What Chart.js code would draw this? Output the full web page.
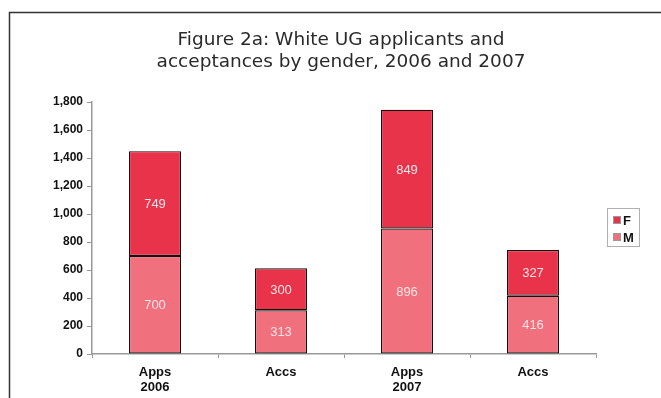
<!DOCTYPE html>
<html>
<head>
<meta charset="utf-8">
<script src="https://cdn.jsdelivr.net/npm/chart.js@4"></script>
<style>
  html, body { margin: 0; padding: 0; background: #fff; }
  #wrap { width: 661px; height: 398px; position: relative; }
</style>
</head>
<body>
<div id="wrap"><canvas id="chart" width="661" height="398"></canvas></div>
<script>
// Data
const categories = [['Apps', '2006'], 'Accs', ['Apps', '2007'], 'Accs'];
const maleValues = [700, 313, 896, 416];
const femaleValues = [749, 300, 849, 327];
const yTicks = [0, 200, 400, 600, 800, 1000, 1200, 1400, 1600, 1800];
const titleLines = ['Figure 2a: White UG applicants and', 'acceptances by gender, 2006 and 2007'];

const colF = '#e8334a';
const colM = '#f0707d';

// Frame, title and legend drawn around the chart
const decor = {
    id: 'decor',
    beforeDraw(chart) {
        const ctx = chart.ctx;
        ctx.save();
        ctx.strokeStyle = '#333';
        ctx.lineWidth = 1.5;
        ctx.beginPath();
        ctx.moveTo(9.5, 400);
        ctx.lineTo(9.5, 12.5);
        ctx.lineTo(665, 12.5);
        ctx.stroke();

        ctx.fillStyle = '#2a2a2a';
        ctx.font = '18.5px "DejaVu Sans", Verdana, sans-serif';
        ctx.textAlign = 'center';
        ctx.textBaseline = 'alphabetic';
        ctx.fillText(titleLines[0], 341, 45);
        ctx.fillText(titleLines[1], 341, 67);
        ctx.restore();
    },
    afterDraw(chart) {
        const ctx = chart.ctx;
        ctx.save();
        ctx.strokeStyle = '#b0b0b0';
        ctx.lineWidth = 1;
        ctx.strokeRect(607.5, 208.5, 32, 38);
        const items = [['F', colF, 220], ['M', colM, 237]];
        ctx.font = 'bold 13px "Liberation Sans", Arial, sans-serif';
        ctx.textBaseline = 'middle';
        ctx.textAlign = 'left';
        items.forEach(([t, c, y]) => {
            ctx.fillStyle = c;
            ctx.fillRect(613, y - 4, 8, 8);
            ctx.strokeStyle = '#999';
            ctx.strokeRect(613.5, y - 3.5, 7, 7);
            ctx.fillStyle = '#111';
            ctx.fillText(t, 623, y + 1);
        });

        // value labels inside segments
        ctx.fillStyle = '#fde4e6';
        ctx.font = '13px "Liberation Sans", Arial, sans-serif';
        ctx.textAlign = 'center';
        chart.data.datasets.forEach((ds, i) => {
            chart.getDatasetMeta(i).data.forEach((bar, j) => {
                const p = bar.getProps(['x', 'y', 'base'], true);
                ctx.fillText(String(ds.data[j]), p.x, (p.y + p.base) / 2 + 1);
            });
        });
        ctx.restore();
    }
};

new Chart(document.getElementById('chart'), {
    type: 'bar',
    data: {
        labels: categories,
        datasets: [
            { label: 'M', data: maleValues, backgroundColor: colM },
            { label: 'F', data: femaleValues, backgroundColor: colF }
        ]
    },
    options: {
        responsive: false,
        animation: false,
        layout: { padding: { top: 102, right: 65, left: 0, bottom: 0 } },
        plugins: {
            legend: { display: false },
            title: { display: false },
            tooltip: { enabled: false }
        },
        datasets: {
            bar: {
                barPercentage: 0.826,
                categoryPercentage: 0.5,
                borderColor: '#111',
                borderWidth: 1.2,
                borderSkipped: false
            }
        },
        scales: {
            x: {
                stacked: true,
                afterFit(scale) { scale.height = 44; },
                border: { color: '#999', width: 1.5 },
                grid: { drawOnChartArea: false, tickLength: 4, color: '#999', offset: true },
                ticks: {
                    color: '#111',
                    padding: 7,
                    font: { family: '"Liberation Sans", Arial, sans-serif', size: 13, weight: 'bold', lineHeight: 1.15 }
                }
            },
            y: {
                stacked: true,
                min: 0,
                max: 1800,
                afterFit(scale) { scale.width = 92; },
                afterBuildTicks(scale) { scale.ticks = yTicks.map(v => ({ value: v })); },
                border: { color: '#999', width: 1.5 },
                grid: { drawOnChartArea: false, tickLength: 5, color: '#999' },
                ticks: {
                    color: '#111',
                    padding: 4,
                    font: { family: '"Liberation Sans", Arial, sans-serif', size: 12, weight: 'bold' },
                    callback: v => v.toLocaleString('en-US')
                }
            }
        }
    },
    plugins: [decor]
});
</script>
</body>
</html>
